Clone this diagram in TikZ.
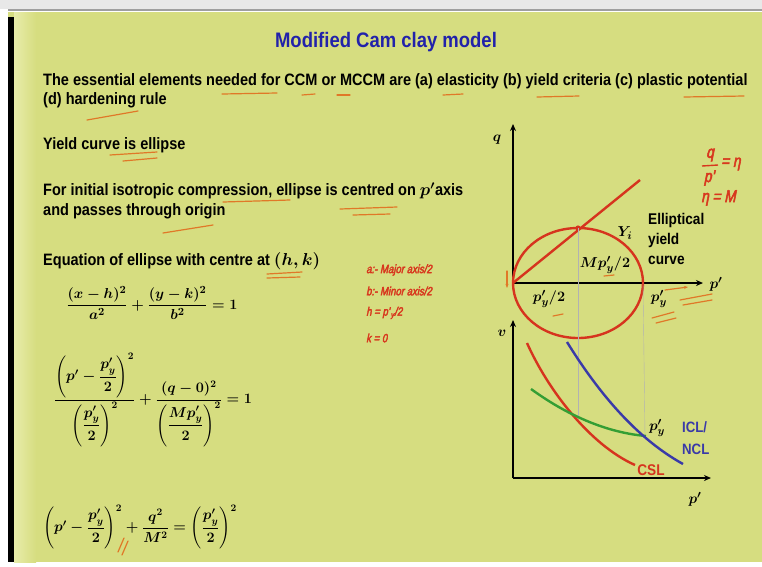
\documentclass[tikz,border=0pt]{standalone}
\usepackage{amsmath,amssymb}
\usepackage{fontspec}
\setmainfont{Liberation Sans}[FakeStretch=0.88]
\newfontfamily\handfont{Liberation Sans}[FakeStretch=0.8,FakeSlant=0.2,FakeBold=3]
\usetikzlibrary{arrows.meta,positioning}

\definecolor{slide}{RGB}{214,221,128}
\definecolor{slidepale}{RGB}{232,236,170}
\definecolor{topgray}{RGB}{232,232,232}
\definecolor{titleblue}{RGB}{34,34,170}
\definecolor{cslred}{RGB}{214,52,30}
\definecolor{iclblue}{RGB}{58,58,168}
\definecolor{ncgreen}{RGB}{52,158,52}
\definecolor{handred}{RGB}{216,56,30}
\definecolor{ulorange}{RGB}{224,120,40}

\tikzset{
  titletext/.style={inner sep=0pt, text=titleblue, font=\bfseries\fontsize{21}{24}\selectfont},
  bodytext/.style={anchor=west, inner sep=0pt, font=\bfseries\fontsize{16.5}{19}\selectfont},
  eqn/.style={inner sep=0pt, font=\fontsize{15}{18}\selectfont\boldmath},
  lbl/.style={inner sep=0pt, font=\fontsize{15}{18}\selectfont\boldmath},
  plotlbl/.style={inner sep=0pt, font=\bfseries\fontsize{15.5}{20}\selectfont},
  hand/.style={inner sep=0pt, anchor=west, text=handred, font=\handfont\fontsize{12}{13}\selectfont},
  bighand/.style={inner sep=0pt, text=handred, font=\handfont\fontsize{17}{18}\selectfont},
  scribble/.style={draw=ulorange, line width=1.2pt, line cap=round},
  axis/.style={line width=1.6pt, -{Stealth[length=7pt,width=6pt]}},
  curve/.style={line width=2.4pt},
  guide/.style={gray!60, line width=0.4pt}
}

\begin{document}
\begin{tikzpicture}[x=1pt,y=-1pt]
\useasboundingbox (0,0) rectangle (762,566);

% slide frame
\fill[white] (0,0) rectangle (762,566);
\fill[topgray] (0,0) rectangle (762,9);
\fill[gray!75] (8,9) rectangle (762,11);
\fill[slide] (8,12) rectangle (762,562);
\shade[left color=slidepale, right color=slide] (14,12) rectangle (36,562);
\fill[black] (8,17) rectangle (14,562);

% text column
\node[titletext] (title) at (386,42) {Modified Cam clay model};
\node[bodytext] (elems) at (43,81) {The essential elements needed for CCM or MCCM are (a) elasticity (b) yield criteria (c) plastic potential};
\node[bodytext] (hard) at (43,100) {(d) hardening rule};
\node[bodytext] (yieldtxt) at (43,145) {Yield curve is ellipse};
\node[bodytext] (iso) at (43,191) {For initial isotropic compression, ellipse is centred on {\boldmath$p'$}axis};
\node[bodytext] (origin) at (43,211) {and passes through origin};
\node[bodytext] (eqhead) at (43,261) {Equation of ellipse with centre at {\boldmath$(h,k)$}};

% equations
\node[eqn] (eqgen) at (152,303) {$\dfrac{(x-h)^2}{a^2}+\dfrac{(y-k)^2}{b^2}=1$};
\node[eqn, font=\fontsize{14}{17}\selectfont\boldmath] (eqsub) at (153,400) {$\dfrac{\left(p'-\dfrac{p'_y}{2}\right)^{2}}{\left(\dfrac{p'_y}{2}\right)^{2}}+\dfrac{(q-0)^2}{\left(\dfrac{Mp'_y}{2}\right)^{2}}=1$};
\node[eqn, font=\fontsize{14}{17}\selectfont\boldmath] (eqfin) at (140,527) {$\left(p'-\dfrac{p'_y}{2}\right)^{2}+\dfrac{q^2}{M^2}=\left(\dfrac{p'_y}{2}\right)^{2}$};

% q-p' plane
\coordinate (O1) at (513,283);
\coordinate (qtop) at (513,124);
\coordinate (pend) at (703,283);
\coordinate (ytop) at (578,228);
\coordinate (pyq) at (643,283);
\draw[axis] (O1) -- (qtop);
\draw[axis] (O1) -- (pend);
\node[lbl] (qlab) at (497,140) {$q$};
\node[lbl] (plab1) at (716,284) {$p'$};
\draw[curve, cslred] (578,283) ellipse [x radius=65, y radius=55];
\draw[curve, cslred] (O1) -- (640,180);
\fill[cslred] (ytop) circle (2.6);
\draw[guide] (ytop) -- (578,418);
\draw[guide] (pyq) -- (645,436);
\node[lbl] (mlab) at (605,265) {$Mp'_y/2$};
\node[lbl] (halflab) at (549,299) {$p'_y/2$};
\node[lbl] (pylab1) at (659,299) {$p'_y$};
\node[lbl] (ylab) at (625,233) {$Y_i$};
\node[plotlbl, anchor=north west, align=left] (ellab) at (648,213) {Elliptical\\yield\\curve};

% v-p' plane
\coordinate (O2) at (513,478);
\coordinate (vtop) at (513,320);
\coordinate (pend2) at (711,478);
\coordinate (pyv) at (646,436);
\draw[axis] (O2) -- (vtop);
\draw[axis] (O2) -- (pend2);
\node[lbl] (vlab) at (502,333) {$v$};
\node[lbl] (plab2) at (695,499) {$p'$};
\draw[curve, cslred] (527,343) .. controls (548,390) and (590,445) .. (635,465);
\draw[curve, ncgreen] (531,389) .. controls (560,410) and (600,432) .. (pyv);
\draw[curve, iclblue] (567,342) .. controls (598,392) and (636,438) .. (683,464);
\node[lbl] (pylab2) at (657,428) {$p'_y$};
\node[plotlbl, text=iclblue, anchor=west, align=left, font=\bfseries\fontsize{15}{22}\selectfont] (icl) at (682,438) {ICL/\\NCL};
\node[plotlbl, text=cslred] (csl) at (651,470) {CSL};

% handwritten notes
\node[hand] (na) at (366,270) {a:- Major axis/2};
\node[hand] (nb) at (366,291) {b:- Minor axis/2};
\node[hand] (nh) at (366,313) {h = p'\kern1pt\textsubscript{y}/2};
\node[hand] (nk) at (366,338) {k = 0};
\node[bighand] (hq) at (710,155) {q};
\node[bighand] (hp) at (709,178) {p'};
\draw[handred, line width=1.4pt] (702,166) -- (718,165);
\node[bighand, anchor=west] (heta) at (721,164) {= η};
\node[bighand, anchor=west] (hm) at (701,198) {η = M};

% underline strokes
\draw[scribble] (222,94) -- (277,93);
\draw[scribble] (302,95) -- (315,94);
\draw[scribble] (337,95) -- (350,95);
\draw[scribble] (443,95) -- (463,94);
\draw[scribble] (537,97) -- (579,96);
\draw[scribble] (684,97) -- (744,96);
\draw[scribble] (87,120) -- (138,111);
\draw[scribble] (110,155) -- (157,152);
\draw[scribble] (123,161) -- (157,158);
\draw[scribble] (223,202) -- (290,200);
\draw[scribble] (340,209) -- (397,207);
\draw[scribble] (353,215) -- (390,214);
\draw[scribble] (163,233) -- (213,225);
\draw[scribble] (267,274) -- (302,272);
\draw[scribble] (267,278) -- (300,277);
\draw[scribble] (553,316) -- (563,314);
\draw[scribble] (604,276) -- (614,275);
\draw[scribble, -{Stealth[length=4pt]}] (665,290) -- (688,287);
\draw[scribble] (680,300) -- (712,294);
\draw[scribble] (683,305) -- (712,300);
\draw[scribble] (652,318) -- (674,312);
\draw[scribble] (656,323) -- (676,318);
\draw[scribble, -{Stealth[length=4pt]}] (507,271) -- (507,288);
\draw[scribble] (118,552) -- (124,538);
\draw[scribble] (122,555) -- (128,541);
\end{tikzpicture}
\end{document}
